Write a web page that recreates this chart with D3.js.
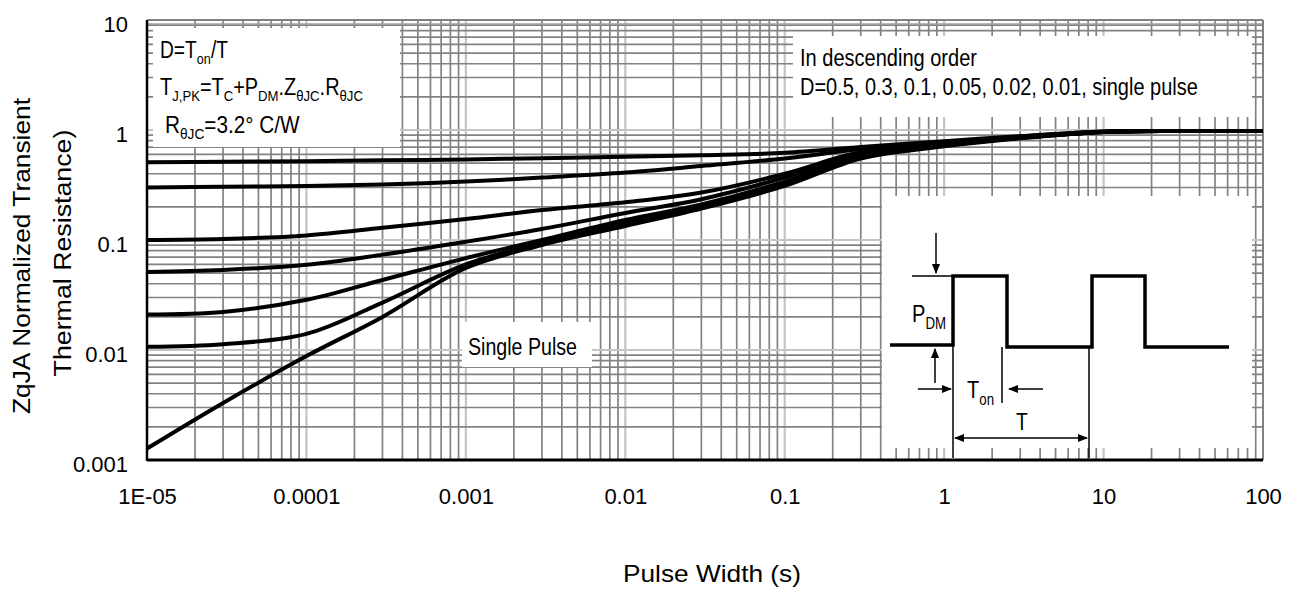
<!DOCTYPE html>
<html><head><meta charset="utf-8">
<script src="https://cdn.jsdelivr.net/npm/d3@7"></script>
<style>
html,body{margin:0;padding:0;background:#fff;}
svg{display:block;font-family:"Liberation Sans",Arial,Helvetica,sans-serif;}
</style></head>
<body>
<svg id="chart" width="1295" height="590"></svg>
<script>
// ---------------- data ----------------
const pulseWidth = [1e-5,3e-5,1e-4,3e-4,1e-3,3e-3,1e-2,3e-2,0.1,0.3,1,3,10,30,100];
const dutyLabels = ["0.5","0.3","0.1","0.05","0.02","0.01","single pulse"];
const d050 = [0.51,0.515,0.52,0.53,0.54,0.555,0.57,0.59,0.62,0.70,0.79,0.88,0.97,0.98,0.98];
const d030 = [0.30,0.305,0.31,0.32,0.34,0.37,0.41,0.47,0.55,0.67,0.77,0.87,0.97,0.98,0.98];
const d010 = [0.10,0.102,0.11,0.129,0.155,0.187,0.22,0.27,0.40,0.63,0.75,0.86,0.96,0.98,0.98];
const d005 = [0.0512,0.0534,0.0596,0.0736,0.0965,0.126,0.176,0.235,0.37,0.61,0.74,0.86,0.96,0.98,0.98];
const d002 = [0.021,0.0222,0.0286,0.0433,0.0685,0.10,0.152,0.21,0.34,0.59,0.73,0.85,0.96,0.98,0.98];
const d001 = [0.0107,0.0113,0.014,0.027,0.060,0.094,0.143,0.20,0.32,0.57,0.72,0.85,0.96,0.98,0.98];
const single = [0.00127,0.0033,0.0088,0.020,0.0557,0.090,0.134,0.193,0.31,0.55,0.71,0.84,0.96,0.98,0.98];
const xTickValues = [1e-5,1e-4,1e-3,1e-2,0.1,1,10,100];
const xTickLabels = ["1E-05","0.0001","0.001","0.01","0.1","1","10","100"];
const yTickValues = [0.001,0.01,0.1,1,10];
const yTickLabels = ["0.001","0.01","0.1","1","10"];

const seriesList = [d050,d030,d010,d005,d002,d001,single];

// ---------------- layout ----------------
const L = 147, R = 1263, T = 20, B = 460;
const svg = d3.select("#chart");
const x = d3.scaleLog().domain([1e-5,100]).range([L,R]);
const y = d3.scaleLog().domain([0.001,10]).range([B,T]);

// grid
const grid = svg.append("g");
const isMajor = v => Math.abs(Math.log10(v) - Math.round(Math.log10(v))) < 1e-9;
const xg = x.ticks().filter(v => v > 1e-5 && v < 100);
const yg = y.ticks().filter(v => v > 0.001 && v < 10);
grid.selectAll("line.vx").data(xg).join("line")
  .attr("x1", d => x(d)).attr("x2", d => x(d)).attr("y1", T).attr("y2", B)
  .attr("stroke", d => isMajor(d) ? "#c4c4c4" : "#828282")
  .attr("stroke-width", d => isMajor(d) ? 2.2 : 1.7);
grid.selectAll("line.hy").data(yg).join("line")
  .attr("y1", d => y(d)).attr("y2", d => y(d)).attr("x1", L).attr("x2", R)
  .attr("stroke", d => isMajor(d) ? "#c4c4c4" : "#828282")
  .attr("stroke-width", d => isMajor(d) ? 2.2 : 1.7);

// frame
svg.append("line").attr("x1",L).attr("x2",R).attr("y1",T).attr("y2",T).attr("stroke","#828282").attr("stroke-width",2);
svg.append("line").attr("x1",L).attr("x2",R).attr("y1",T+4).attr("y2",T+4).attr("stroke","#a0a0a0").attr("stroke-width",1.5);
svg.append("line").attr("x1",R).attr("x2",R).attr("y1",T).attr("y2",B).attr("stroke","#828282").attr("stroke-width",2);

// white annotation boxes (cover grid)
const boxes = [[153,28,400,147],[793,36,1252,117],[462,322,592,367],[882,196,1252,448]];
svg.append("g").selectAll("rect").data(boxes).join("rect")
  .attr("x", d => d[0]).attr("y", d => d[1]).attr("width", d => d[2]-d[0]).attr("height", d => d[3]-d[1])
  .attr("fill","#fff");

// curves
const line = d3.line().x((d,i) => x(pulseWidth[i])).y(d => y(d)).curve(d3.curveCatmullRom.alpha(0.5));
svg.append("g").selectAll("path").data(seriesList).join("path")
  .attr("d", d => line(d)).attr("fill","none").attr("stroke","#000").attr("stroke-width",4)
  .attr("stroke-linejoin","round");

svg.append("line").attr("x1",L).attr("x2",L).attr("y1",T).attr("y2",B+1).attr("stroke","#000").attr("stroke-width",2.5);
svg.append("line").attr("x1",L).attr("x2",R).attr("y1",B).attr("y2",B).attr("stroke","#000").attr("stroke-width",3);

// axes
const xAxis = d3.axisBottom(x).tickValues(xTickValues).tickFormat((d,i) => xTickLabels[i]).tickSize(0).tickPadding(0);
const gx = svg.append("g").attr("transform",`translate(0,${B})`).call(xAxis);
gx.select(".domain").remove();
gx.selectAll("text").attr("y", 0).attr("dy", 0).attr("transform","translate(0,44)")
  .attr("font-size",22).attr("fill","#000").attr("font-family","Liberation Sans, Arial, sans-serif");

const yAxis = d3.axisLeft(y).tickValues(yTickValues).tickFormat((d,i) => yTickLabels[i]).tickSize(0).tickPadding(0);
const gy = svg.append("g").attr("transform",`translate(128,0)`).call(yAxis);
gy.select(".domain").remove();
gy.selectAll("text").attr("x",0).attr("dy",0).attr("transform","translate(0,11)")
  .attr("font-size",22).attr("fill","#000").attr("font-family","Liberation Sans, Arial, sans-serif");

// text helper: build at origin, then fit to width
function fitText(parts, x0, y0, width, fs, opts = {}) {
  const t = svg.append("text").attr("font-size", fs).attr("fill","#000");
  parts.forEach(p => {
    const ts = t.append("tspan").text(p.t);
    if (p.sub) ts.attr("font-size", fs*0.66).attr("dy", fs*0.28);
    if (p.back) ts.attr("dy", -fs*0.28);
  });
  const w = t.node().getBBox().width;
  const s = width / w;
  if (opts.rotate) {
    t.attr("text-anchor","middle").attr("transform",`translate(${x0},${y0}) rotate(-90) scale(${s},1)`);
  } else {
    t.attr("transform",`translate(${x0},${y0}) scale(${s},1)`);
  }
  return t;
}

// top-left formula box
fitText([{t:"D=T"},{t:"on",sub:1},{t:"/T",back:1}], 160, 58, 68, 23);
fitText([{t:"T"},{t:"J,PK",sub:1},{t:"=T",back:1},{t:"C",sub:1},{t:"+P",back:1},{t:"DM",sub:1},{t:".Z",back:1},{t:"θJC",sub:1},{t:".R",back:1},{t:"θJC",sub:1}], 160, 95, 203, 23);
fitText([{t:"R"},{t:"θJC",sub:1},{t:"=3.2°  C/W",back:1}], 165, 133, 135, 23);

// top-right text
fitText([{t:"In descending order"}], 800, 66, 177, 24);
fitText([{t:"D=" + dutyLabels.join(", ")}], 800, 95, 398, 24);

// single pulse label
fitText([{t:"Single Pulse"}], 468, 355, 109, 24);

// axis titles
fitText([{t:"Pulse Width (s)"}], 623, 582, 178, 23);
fitText([{t:"ZqJA Normalized Transient"}], 30, 256, 317, 23, {rotate:1});
fitText([{t:"Thermal Resistance)"}], 71, 253, 247, 23, {rotate:1});

// ---------------- inset pulse diagram ----------------
const ins = svg.append("g");
const wave = [[890,345],[953,345],[953,276],[1007,276],[1007,347],[1092,347],[1092,276],[1145,276],[1145,347],[1229,347]];
ins.append("path").attr("d", d3.line()(wave)).attr("fill","none").attr("stroke","#000").attr("stroke-width",3.5);
const thin = [[[912,276],[953,276]],[[953,345],[953,458]],[[1002,347],[1002,403]],[[1089,347],[1089,458]]];
thin.forEach(s => ins.append("path").attr("d", d3.line()(s)).attr("stroke","#000").attr("stroke-width",1.5));
svg.append("defs").append("marker").attr("id","ah").attr("viewBox","0 0 10 10").attr("refX",9).attr("refY",5)
  .attr("markerWidth",7).attr("markerHeight",7).attr("orient","auto-start-reverse")
  .append("path").attr("d","M0,1 L10,5 L0,9 Z").attr("fill","#000");
const arrows = [[[936,233],[936,273]],[[935,383],[935,349]],[[918,389],[951,389]],[[1043,389],[1009,389]]];
arrows.forEach(a => ins.append("path").attr("d", d3.line()(a)).attr("stroke","#000").attr("stroke-width",1.5).attr("marker-end","url(#ah)"));
ins.append("path").attr("d", d3.line()([[955,438],[1087,438]])).attr("stroke","#000").attr("stroke-width",1.5)
  .attr("marker-end","url(#ah)").attr("marker-start","url(#ah)");
fitText([{t:"P"},{t:"DM",sub:1}], 912, 322, 34, 24);
fitText([{t:"T"},{t:"on",sub:1}], 967, 398, 27, 24);
fitText([{t:"T"}], 1016, 430, 12, 24);
</script>
</body></html>
